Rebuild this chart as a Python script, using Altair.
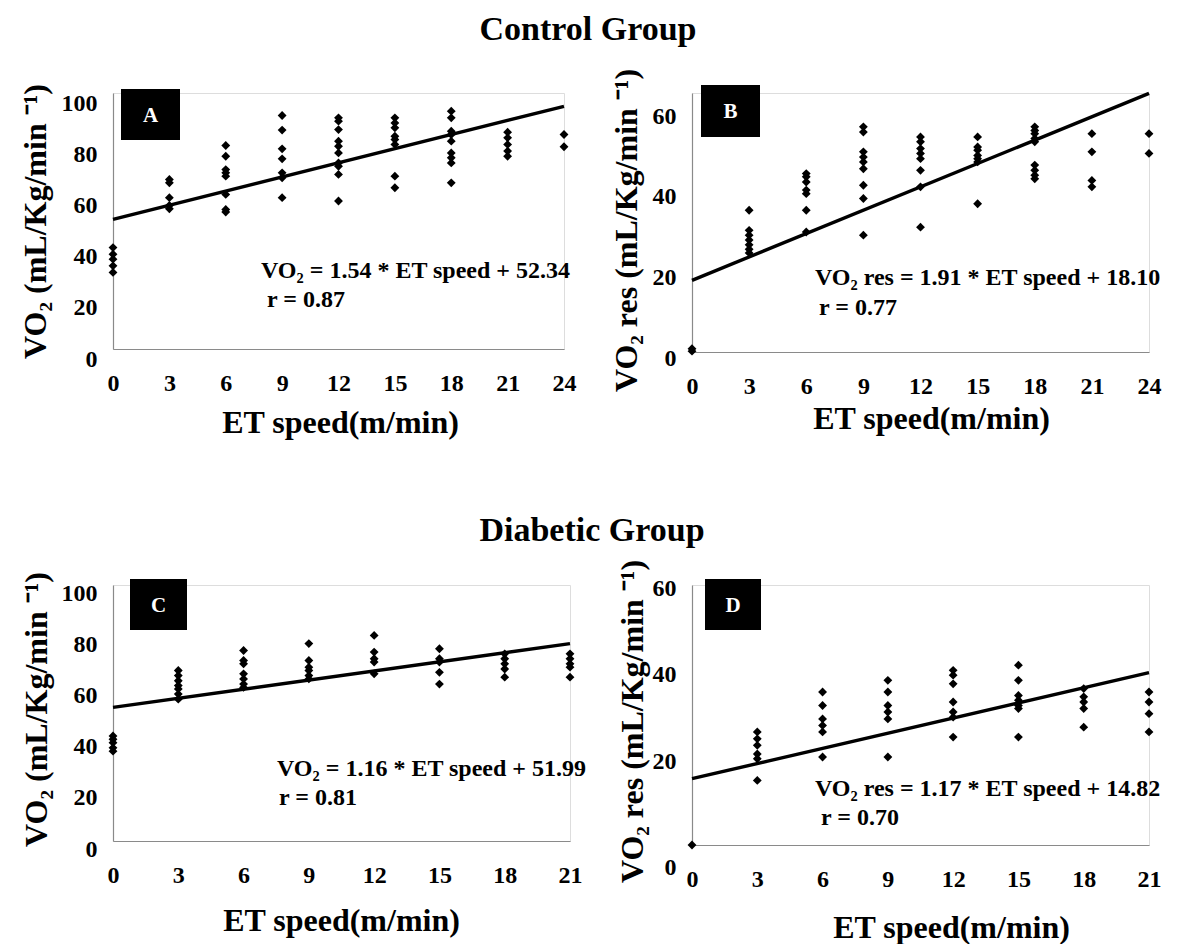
import altair as alt
import pandas as pd

SERIF = "Liberation Serif, Times New Roman, Times, serif"

# ---------------- data ----------------
A_SPEEDS = [0, 3, 6, 9, 12, 15, 18, 21, 24]
A_VO2 = [
    [39.6, 37.0, 35.1, 32.5, 29.9],
    [66.2, 64.9, 59.1, 56.1, 54.8],
    [79.5, 75.3, 70.1, 68.8, 67.5, 60.4, 54.5, 53.5],
    [91.2, 85.5, 78.2, 74.3, 68.8, 66.9, 59.1],
    [90.3, 89.0, 85.7, 81.2, 79.2, 76.6, 72.7, 71.4, 68.2, 57.8],
    [90.3, 88.3, 86.4, 83.1, 81.8, 79.9, 67.5, 63.0],
    [92.9, 90.3, 85.1, 83.8, 81.2, 76.6, 74.7, 72.7, 64.9],
    [84.7, 82.5, 79.9, 77.3, 75.3],
    [83.8, 79.0],
]
A_FIT_X = [0, 24]
A_FIT_Y = [50.6, 94.8]

B_SPEEDS = [0, 3, 6, 9, 12, 15, 18, 21, 24]
B_VO2 = [
    [0.8, 0.2],
    [35.2, 30.2, 29.0, 27.8, 26.6, 25.5, 24.6],
    [44.3, 43.5, 42.2, 40.2, 39.3, 35.2, 29.8],
    [55.9, 54.6, 49.7, 48.4, 47.2, 45.5, 41.4, 38.1, 29.0],
    [53.4, 52.2, 50.5, 49.3, 48.0, 45.1, 41.0, 31.0],
    [53.4, 50.9, 50.1, 48.8, 48.0, 47.2, 36.8],
    [55.9, 55.0, 54.2, 53.0, 52.2, 46.4, 45.1, 43.9, 43.0],
    [54.2, 49.7, 42.6, 41.0],
    [54.2, 49.3],
]
B_FIT_X = [0, 24]
B_FIT_Y = [17.8, 64.2]

C_SPEEDS = [0, 3, 6, 9, 12, 15, 18, 21]
C_VO2 = [
    [41.0, 39.7, 38.4, 36.4, 35.1],
    [66.6, 64.6, 62.6, 60.7, 59.4, 57.4, 55.4],
    [74.4, 70.5, 69.2, 65.3, 63.3, 61.3, 60.0],
    [77.1, 70.5, 67.9, 66.6, 64.6, 63.3],
    [80.3, 73.8, 71.2, 69.9, 65.3],
    [75.1, 71.2, 69.9, 65.9, 61.3],
    [73.1, 71.2, 69.2, 67.2, 64.0],
    [73.1, 71.2, 69.2, 67.9, 64.0],
]
C_FIT_X = [0, 21]
C_FIT_Y = [52.2, 77.1]

D_SPEEDS = [0, 3, 6, 9, 12, 15, 18, 21]
D_VO2 = [
    [0.0],
    [26.1, 24.5, 23.0, 21.0, 19.9, 14.9],
    [35.3, 32.2, 29.1, 27.6, 26.1, 20.3],
    [38.0, 35.3, 32.2, 30.7, 29.1, 20.3],
    [40.3, 39.2, 37.2, 33.0, 30.7, 29.5, 24.9],
    [41.5, 38.0, 34.5, 33.4, 32.2, 31.5, 24.9],
    [36.1, 34.2, 33.0, 31.5, 27.2],
    [35.3, 33.0, 30.3, 26.1],
]
D_FIT_X = [0, 21]
D_FIT_Y = [15.3, 39.8]

X_TICKS_24 = [0, 3, 6, 9, 12, 15, 18, 21, 24]
X_TICKS_21 = [0, 3, 6, 9, 12, 15, 18, 21]
Y_TICKS_100 = [0, 20, 40, 60, 80, 100]
Y_TICKS_60 = [0, 20, 40, 60]

X_TITLE = "ET speed(m/min)"
Y_TITLE_VO2 = "VO\u2082   (mL/Kg/min \u207b\u00b9)"
Y_TITLE_RES = "VO\u2082 res (mL/Kg/min \u207b\u00b9)"


def points_frame(speeds, values):
    rows = []
    for s, vals in zip(speeds, values):
        for v in vals:
            rows.append({"speed": s, "vo2": v})
    return pd.DataFrame(rows)


def panel(speeds, values, fit_x, fit_y, x_ticks, y_ticks, y_max, width, height,
          y_title, y_title_x, y_title_y, x_title_x, x_title_y, y_label_offset,
          letter, box, eq_text, eq_pos, r_text, r_pos, group=None):
    pts = points_frame(speeds, values)
    fit = pd.DataFrame({"speed": fit_x, "vo2": fit_y})

    x_scale = alt.Scale(domain=[x_ticks[0], x_ticks[-1]], nice=False, zero=True)
    y_scale = alt.Scale(domain=[0, y_max], nice=False, zero=True)

    x_axis = alt.Axis(
        values=x_ticks, grid=False, ticks=False, domainColor="#8a8a8a", domainWidth=1.2,
        labelFont=SERIF, labelFontWeight="bold", labelFontSize=24, labelColor="black",
        labelPadding=22, labelAngle=0, labelFlush=False,
        title=X_TITLE, titleFont=SERIF, titleFontWeight="bold", titleFontSize=32,
        titleColor="black", titleX=x_title_x, titleY=x_title_y,
        titleBaseline="middle", titleAlign="center", titleAnchor="start",
    )
    y_axis = alt.Axis(
        values=y_ticks, grid=False, ticks=False, domainColor="#8a8a8a", domainWidth=1.2,
        labelFont=SERIF, labelFontWeight="bold", labelFontSize=24, labelColor="black",
        labelPadding=16, labelOffset=y_label_offset, labelFlush=False,
        labelBaseline="middle",
        title=y_title, titleFont=SERIF, titleFontWeight="bold", titleFontSize=32,
        titleColor="black", titleX=y_title_x, titleY=y_title_y, titleAngle=270,
        titleBaseline="middle", titleAlign="center", titleAnchor="start",
    )

    base_x = alt.X("speed:Q", scale=x_scale, axis=x_axis)
    base_y = alt.Y("vo2:Q", scale=y_scale, axis=y_axis)

    scatter = alt.Chart(pts).mark_point(
        shape="diamond", filled=True, size=78, color="black", opacity=1
    ).encode(x=base_x, y=base_y)

    line = alt.Chart(fit).mark_line(color="black", strokeWidth=3.4).encode(
        x=alt.X("speed:Q", scale=x_scale), y=alt.Y("vo2:Q", scale=y_scale)
    )

    lab = pd.DataFrame({"t": [letter]})
    rect = alt.Chart(lab).mark_rect(color="black").encode(
        x=alt.value(box[0]), x2=alt.value(box[1]),
        y=alt.value(box[2]), y2=alt.value(box[3]),
    )
    letter_txt = alt.Chart(lab).mark_text(
        font=SERIF, fontWeight="bold", fontSize=21, color="white",
        align="center", baseline="middle",
    ).encode(
        x=alt.value((box[0] + box[1]) / 2), y=alt.value((box[2] + box[3]) / 2 + 1),
        text="t:N",
    )

    eq = alt.Chart(pd.DataFrame({"t": [eq_text]})).mark_text(
        font=SERIF, fontWeight="bold", fontSize=24, color="black",
        align="left", baseline="alphabetic",
    ).encode(x=alt.value(eq_pos[0]), y=alt.value(eq_pos[1]), text="t:N")

    rr = alt.Chart(pd.DataFrame({"t": [r_text]})).mark_text(
        font=SERIF, fontWeight="bold", fontSize=24, color="black",
        align="left", baseline="alphabetic",
    ).encode(x=alt.value(r_pos[0]), y=alt.value(r_pos[1]), text="t:N")

    layers = [scatter, line, rect, letter_txt, eq, rr]
    if group is not None:
        g = alt.Chart(pd.DataFrame({"t": [group[0]]})).mark_text(
            font=SERIF, fontWeight="bold", fontSize=group[3], color="black",
            align="center", baseline="alphabetic",
        ).encode(x=alt.value(group[1]), y=alt.value(group[2]), text="t:N")
        layers.append(g)

    return alt.layer(*layers).properties(width=width, height=height)


d_label_offset = alt.condition("datum.value == 0", alt.value(22), alt.value(3))

A = panel(A_SPEEDS, A_VO2, A_FIT_X, A_FIT_Y, X_TICKS_24, Y_TICKS_100, 100, 451, 256,
          Y_TITLE_VO2, -78, 128, 227, 73, 10,
          "A", (8, 67, -4, 47),
          "VO\u2082 = 1.54 * ET speed + 52.34", (148, 185), "r = 0.87", (154, 214),
          group=("Control Group", 475, -53, 34))

B = panel(B_SPEEDS, B_VO2, B_FIT_X, B_FIT_Y, X_TICKS_24, Y_TICKS_60, 64.3, 457, 259,
          Y_TITLE_RES, -66, 137, 239, 66, 6,
          "B", (9, 68, -8, 44),
          "VO\u2082  res = 1.91 * ET speed + 18.10", (123, 192), "r = 0.77", (127, 222))

C = panel(C_SPEEDS, C_VO2, C_FIT_X, C_FIT_Y, X_TICKS_21, Y_TICKS_100, 100, 457, 256,
          Y_TITLE_VO2, -77, 124, 228, 79, 8,
          "C", (17, 74, -6, 45),
          "VO\u2082 = 1.16 * ET speed + 51.99", (164, 191), "r = 0.81", (166, 220),
          group=("Diabetic Group", 479, -44, 34))

D = panel(D_SPEEDS, D_VO2, D_FIT_X, D_FIT_Y, X_TICKS_21, Y_TICKS_60, 60, 457, 260,
          Y_TITLE_RES, -60, 136, 259, 82, d_label_offset,
          "D", (13, 69, -6, 45),
          "VO\u2082  res = 1.17 * ET speed + 14.82", (123, 211), "r = 0.70", (129, 240))

chart = alt.concat(
    A, B, C, D, columns=2, spacing={"row": 233, "column": 122}, bounds="flush"
).properties(
    padding={"left": 10, "top": 4, "right": 5, "bottom": 0}
).configure_view(stroke=None).configure(background="white")

chart.save("out.html", embed_options={"renderer": "svg", "actions": False})
